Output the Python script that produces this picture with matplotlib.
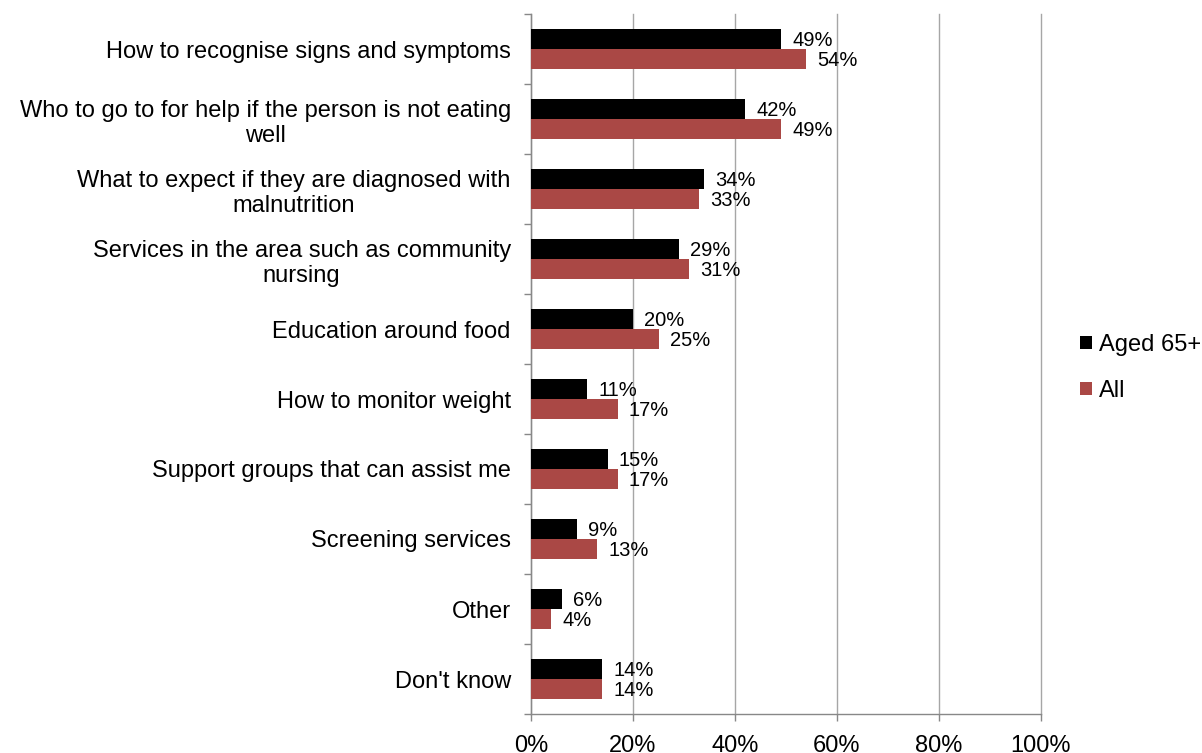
import matplotlib
matplotlib.use("Agg")
import matplotlib.pyplot as plt
import numpy as np

categories = [
    "How to recognise signs and symptoms",
    "Who to go to for help if the person is not eating\nwell",
    "What to expect if they are diagnosed with\nmalnutrition",
    "Services in the area such as community\nnursing",
    "Education around food",
    "How to monitor weight",
    "Support groups that can assist me",
    "Screening services",
    "Other",
    "Don't know",
]
aged65 = [49, 42, 34, 29, 20, 11, 15, 9, 6, 14]
all_vals = [54, 49, 33, 31, 25, 17, 17, 13, 4, 14]
series_names = ["Aged 65+", "All"]
xticks = [0, 20, 40, 60, 80, 100]

plt.rcParams['font.family'] = ['Liberation Sans', 'DejaVu Sans']

fig = plt.figure(figsize=(12.02, 7.53), dpi=100)
ax = fig.add_axes([531/1202, 1-714/753, (1041-531)/1202, (714-14)/753])

y = np.arange(len(categories))
h = 0.285
b1 = ax.barh(y - h/2, aged65, height=h, color='black', label=series_names[0], zorder=3)
b2 = ax.barh(y + h/2, all_vals, height=h, color='#AA4845', label=series_names[1], zorder=3)

for bars, vals in ((b1, aged65), (b2, all_vals)):
    for rect, v in zip(bars, vals):
        ax.annotate(f"{v}%", (rect.get_width(), rect.get_y() + rect.get_height()/2),
                    xytext=(8, -1), textcoords='offset points', ha='left', va='center',
                    fontsize=14.5, color='black', zorder=4)

ax.set_xlim(0, 100)
ax.set_ylim(len(categories) - 0.5, -0.5)
ax.set_xticks(xticks)
ax.set_xticklabels([f"{t}%" for t in xticks], fontsize=17)
ax.set_yticks(y)
ax.set_yticklabels(categories, fontsize=17, ha='right', linespacing=1.22,
                   multialignment='center')
ax.set_yticks(np.arange(-0.5, len(categories)), minor=True)
ax.tick_params(axis='y', which='major', length=0, pad=14.5)
ax.tick_params(axis='y', which='minor', length=5, color='#888888', width=1)
ax.tick_params(axis='x', which='major', length=5, color='#888888', width=1, pad=9.8)
ax.xaxis.grid(True, color='#A6A6A6', linewidth=1, zorder=0)
for gl in ax.get_xgridlines():
    gl.set_clip_on(False)
ax.set_axisbelow(True)
for s in ('top', 'right'):
    ax.spines[s].set_visible(False)
for s in ('left', 'bottom'):
    ax.spines[s].set_color('#888888')
    ax.spines[s].set_linewidth(1)

leg = fig.legend(handles=[b1, b2], labels=series_names, loc='upper left',
                 bbox_to_anchor=(1080/1202, 1-334/753), frameon=False, fontsize=17,
                 handlelength=0.5, handleheight=0.5, handletextpad=0.3, labelspacing=1.0,
                 borderaxespad=0, borderpad=0)

fig.savefig("out.png", dpi=100)
